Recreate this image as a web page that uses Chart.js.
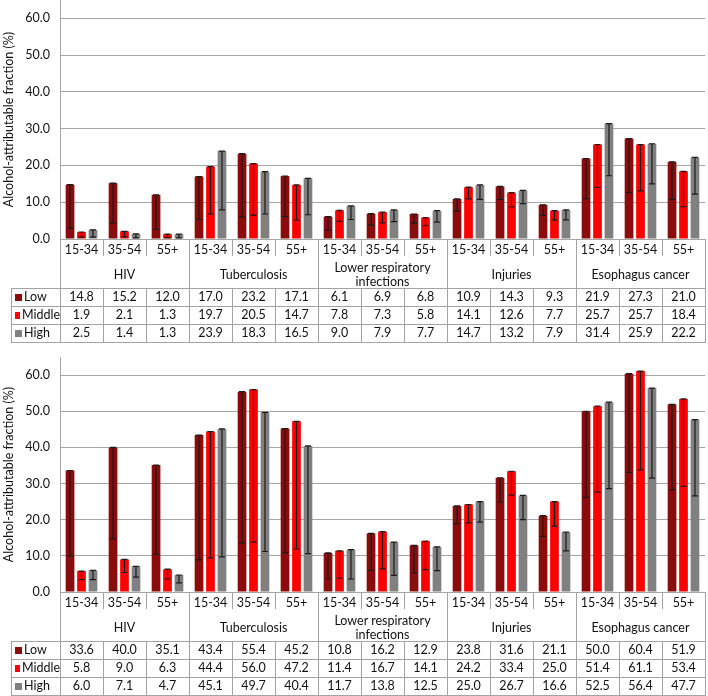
<!DOCTYPE html>
<html>
<head>
<meta charset="utf-8">
<script src="https://cdn.jsdelivr.net/npm/chart.js@4"></script>
<style>
  body { margin: 0; background: #fff; font-family: Lato, "Open Sans", sans-serif; }
  #page { position: relative; width: 708px; height: 696px; overflow: hidden; }
  #page canvas { position: absolute; left: 0; }
  .ln { position: absolute; background: #a3a3a3; }
  .txt { position: absolute; display: flex; align-items: center; justify-content: center;
         text-align: center; font-size: 12.5px; line-height: 14px; color: #111; }
  .head { justify-content: flex-start; }
  .sq { display: inline-block; width: 7px; height: 7px; margin: 0 2px 0 4px; }
</style>
</head>
<body>
<div id="page"></div>
<script>
// categories
const ageGroups = ['15-34', '35-54', '55+'];
const diseases = ['HIV', 'Tuberculosis', 'Lower respiratory infections', 'Injuries', 'Esophagus cancer'];
const incomeLevels = ['Low', 'Middle', 'High'];
const levelColors = ['#8a0c0c', '#ff0000', '#808080'];
const yTicks = [0, 10, 20, 30, 40, 50, 60];

// upper panel: point estimates and lower bounds of the error bars
const topLow = [14.8, 15.2, 12.0, 17.0, 23.2, 17.1, 6.1, 6.9, 6.8, 10.9, 14.3, 9.3, 21.9, 27.3, 21.0];
const topMiddle = [1.9, 2.1, 1.3, 19.7, 20.5, 14.7, 7.8, 7.3, 5.8, 14.1, 12.6, 7.7, 25.7, 25.7, 18.4];
const topHigh = [2.5, 1.4, 1.3, 23.9, 18.3, 16.5, 9.0, 7.9, 7.7, 14.7, 13.2, 7.9, 31.4, 25.9, 22.2];
const topLowCI = [2.9, 4.3, 2.6, 5.3, 6.0, 6.1, 2.4, 3.8, 4.3, 7.6, 10.8, 6.4, 11.0, 12.6, 10.8];
const topMiddleCI = [0.5, 0.6, 0.4, 6.8, 6.4, 5.1, 4.8, 4.4, 3.6, 10.9, 8.7, 5.2, 14.0, 13.1, 8.8];
const topHighCI = [0.5, 0.3, 0.3, 7.9, 6.8, 6.6, 5.3, 4.7, 4.6, 10.8, 9.6, 5.2, 17.2, 15.0, 12.2];

// lower panel
const bottomLow = [33.6, 40.0, 35.1, 43.4, 55.4, 45.2, 10.8, 16.2, 12.9, 23.8, 31.6, 21.1, 50.0, 60.4, 51.9];
const bottomMiddle = [5.8, 9.0, 6.3, 44.4, 56.0, 47.2, 11.4, 16.7, 14.1, 24.2, 33.4, 25.0, 51.4, 61.1, 53.4];
const bottomHigh = [6.0, 7.1, 4.7, 45.1, 49.7, 40.4, 11.7, 13.8, 12.5, 25.0, 26.7, 16.6, 52.5, 56.4, 47.7];
const bottomLowCI = [10.0, 14.7, 10.5, 8.9, 13.5, 10.8, 3.6, 6.0, 5.3, 18.9, 24.9, 15.4, 26.2, 33.1, 28.3];
const bottomMiddleCI = [3.4, 5.4, 3.6, 9.4, 13.8, 11.9, 3.8, 6.4, 6.2, 19.1, 26.8, 18.2, 27.6, 33.8, 29.2];
const bottomHighCI = [3.4, 4.1, 2.5, 9.7, 11.2, 10.6, 3.6, 4.6, 5.9, 19.3, 20.0, 11.4, 28.6, 31.5, 26.6];

Chart.defaults.font.family = 'Lato, "Open Sans", sans-serif';
Chart.defaults.color = '#111';

// layout of the plot / table
const plotLeft = 60;
const colW = 43;
const headLeft = 11;
const nCols = diseases.length * ageGroups.length;
const plotRight = plotLeft + colW * nCols;

// draws the error bar from the lower bound up to the bar value
const errorBars = {
  id: 'errorBars',
  afterDatasetsDraw(chart) {
    const ctx = chart.ctx;
    const y = chart.scales.y;
    ctx.save();
    ctx.strokeStyle = '#1b1b1b';
    ctx.lineWidth = 1.2;
    chart.data.datasets.forEach((ds, d) => {
      chart.getDatasetMeta(d).data.forEach((bar, i) => {
        const y1 = y.getPixelForValue(ds.data[i]);
        const y2 = y.getPixelForValue(ds.lower[i]);
        ctx.beginPath();
        ctx.moveTo(bar.x, y1); ctx.lineTo(bar.x, y2);
        ctx.moveTo(bar.x - 3, y1); ctx.lineTo(bar.x + 3, y1);
        ctx.moveTo(bar.x - 3, y2); ctx.lineTo(bar.x + 3, y2);
        ctx.stroke();
      });
    });
    ctx.restore();
  }
};

const page = document.getElementById('page');

function addLine(x, y, w, h) {
  const el = document.createElement('div');
  el.className = 'ln';
  el.style.left = x + 'px'; el.style.top = y + 'px';
  el.style.width = w + 'px'; el.style.height = h + 'px';
  page.appendChild(el);
}

function addText(html, x, y, w, h, cls) {
  const el = document.createElement('div');
  el.className = 'txt' + (cls ? ' ' + cls : '');
  el.style.left = x + 'px'; el.style.top = y + 'px';
  el.style.width = w + 'px'; el.style.height = h + 'px';
  el.innerHTML = html;
  page.appendChild(el);
}

function makePanel(canvasTop, canvasH, padTop, values, lowers) {
  const canvas = document.createElement('canvas');
  canvas.width = 708; canvas.height = canvasH;
  canvas.style.top = canvasTop + 'px';
  page.appendChild(canvas);

  new Chart(canvas, {
    type: 'bar',
    data: {
      labels: diseases.flatMap(d => ageGroups.map(a => a)),
      datasets: incomeLevels.map((lvl, k) => ({
        label: lvl,
        data: values[k],
        lower: lowers[k],
        backgroundColor: levelColors[k],
        categoryPercentage: 0.8,
        barPercentage: 0.76
      }))
    },
    options: {
      responsive: false,
      animation: false,
      layout: { padding: { top: padTop, right: 708 - plotRight, bottom: 11, left: 0 } },
      plugins: { legend: { display: false }, tooltip: { enabled: false } },
      scales: {
        x: { display: false },
        y: {
          min: 0, max: 65,
          afterBuildTicks: s => { s.ticks = yTicks.map(v => ({ value: v })); },
          afterFit: s => { s.width = plotLeft; s.paddingTop = 0; s.paddingBottom = 0; },
          ticks: { padding: 10, font: { size: 12.5 }, callback: v => v.toFixed(1) },
          grid: { color: '#a6a6a6', drawTicks: false },
          border: { color: '#a6a6a6' },
          title: {
            display: true,
            text: 'Alcohol-attributable fraction (%)',
            font: { size: 12.5 },
            padding: { top: 1, bottom: 0 }
          }
        }
      }
    },
    plugins: [errorBars]
  });

  // table under the plot
  const zeroY = canvasTop + canvasH - 11;
  const ageBottom = zeroY + 22;
  const tableTop = zeroY + 49;
  const rowH = 18;

  for (let k = 0; k <= nCols; k++) {
    const x = plotLeft + k * colW;
    if (k % ageGroups.length === 0) addLine(x, zeroY, 1, tableTop - zeroY);
    else addLine(x, zeroY, 1, 17);
  }
  for (let k = 0; k < nCols; k++) {
    addText(ageGroups[k % ageGroups.length], plotLeft + k * colW, zeroY, colW, 22);
  }
  diseases.forEach((d, g) => {
    const w = colW * ageGroups.length;
    addText(d, plotLeft + g * w + 8, ageBottom, w - 16, tableTop - ageBottom);
  });

  for (let r = 0; r <= incomeLevels.length; r++) {
    addLine(headLeft, tableTop + r * rowH, plotRight - headLeft + 1, 1);
  }
  addLine(headLeft, tableTop, 1, rowH * incomeLevels.length);
  for (let k = 0; k <= nCols; k++) {
    addLine(plotLeft + k * colW, tableTop, 1, rowH * incomeLevels.length);
  }
  incomeLevels.forEach((lvl, r) => {
    const y = tableTop + r * rowH;
    addText('<span class="sq" style="background:' + levelColors[r] + '"></span>' + lvl,
      headLeft, y, plotLeft - headLeft, rowH, 'head');
    values[r].forEach((v, k) => {
      addText(v.toFixed(1), plotLeft + k * colW, y, colW, rowH);
    });
  });
}

makePanel(0, 250, 0, [topLow, topMiddle, topHigh], [topLowCI, topMiddleCI, topHighCI]);
makePanel(350, 253, 7, [bottomLow, bottomMiddle, bottomHigh], [bottomLowCI, bottomMiddleCI, bottomHighCI]);
</script>
</body>
</html>
